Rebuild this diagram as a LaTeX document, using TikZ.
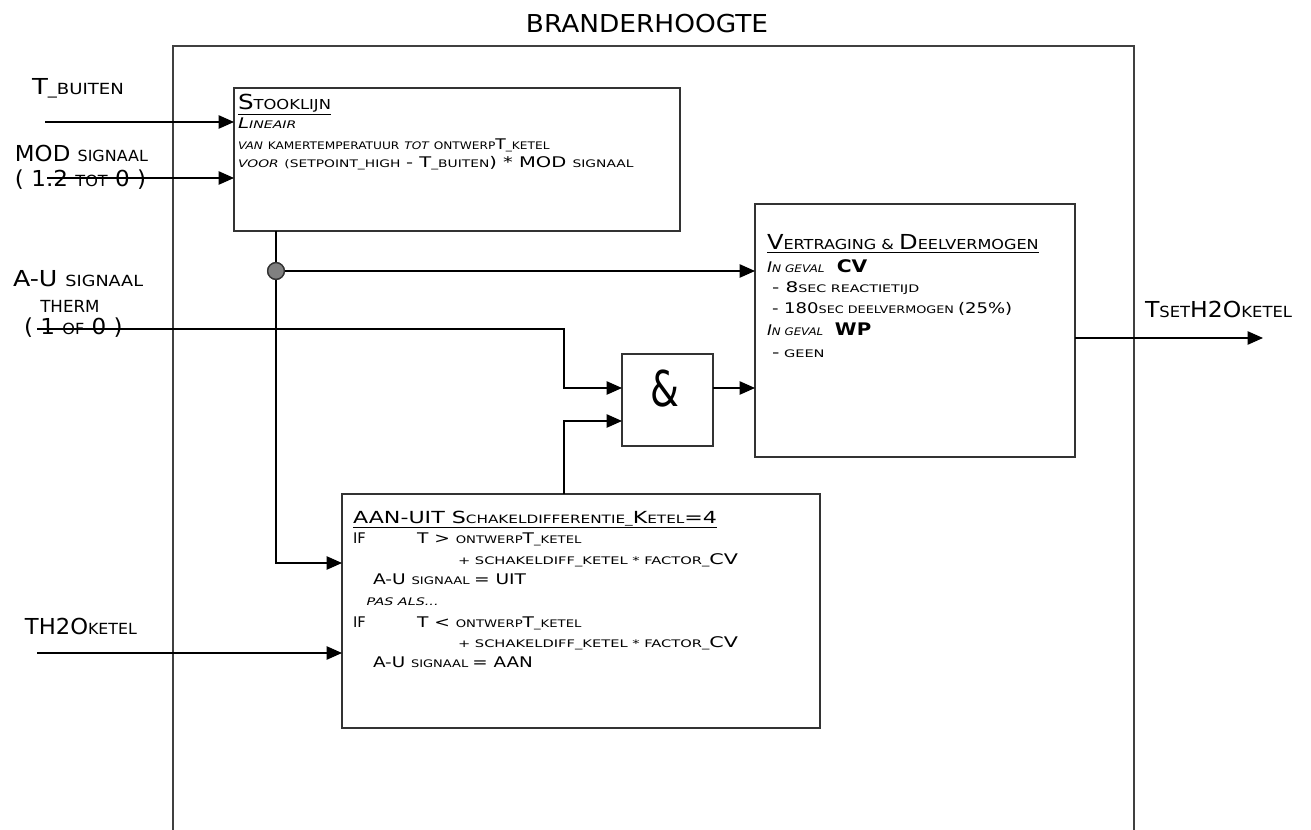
\documentclass[tikz,border=0pt]{standalone}
\usepackage{fontspec}
\usepackage{graphicx}
\setmainfont{DejaVu Sans}
\usetikzlibrary{arrows.meta,fit}

% font sizes: capitals and small capitals per context
\newcommand\fsz[1]{\fontsize{#1}{#1}\selectfont}
\newcommand\Lc{\fsz{16.5}}  % outer labels, capitals
\newcommand\Ls{\fsz{11.5}}  % outer labels, small capitals
\newcommand\Hc{\fsz{15.5}}  % block headers, capitals
\newcommand\Hs{\fsz{10.3}}  % block headers, small capitals
\newcommand\Bc{\fsz{11}}    % block body, capitals
\newcommand\Bs{\fsz{7.8}}   % block body, small capitals
\newcommand\Ac{\fsz{12.5}}  % switch block header, capitals
\newcommand\As{\fsz{8.6}}   % switch block header, small capitals
% the drafting lettering runs wide: stretch a line horizontally
\newcommand\wide[2]{\scalebox{#1}[1]{#2}}

\tikzset{
  blk/.style={draw=black!80, line width=1pt, inner sep=0pt, outer sep=0pt},
  frame/.style={draw=black!75, line width=1.3pt},
  arr/.style={draw=black, line width=1pt,
              -{Triangle[length=11.5pt,width=10pt]}},
  wire/.style={draw=black, line width=1pt},
  txt/.style={anchor=base west, inner sep=0pt, outer sep=0pt},
  dot/.style={circle, draw=black!80, fill=black!50, line width=1pt,
              minimum size=12.5pt, inner sep=0pt},
}

\begin{document}
\begin{tikzpicture}[x=0.75pt, y=-0.75pt]
\useasboundingbox (0,0) rectangle (1311,830);

% enclosing frame, open at the bottom
\draw[frame] (173,830) -- (173,46) -- (1134,46) -- (1134,830);
\node[anchor=base, inner sep=0pt, font=\fsz{18.5}] (title) at (647,33) {\wide{1.07}{BRANDERHOOGTE}};

% blocks
\node[blk, fit={(234,88) (680,231)}] (stook) {};
\node[blk, fit={(755,204) (1075,457)}] (vertr) {};
\node[blk, fit={(622,354) (713,446)}] (andg) {};
\node[blk, fit={(342,494) (820,728)}] (aan) {};
\node[inner sep=0pt, font=\fsz{37}, xscale=0.75] (amp) at (665,389) {\&};

% input labels
\node[txt] (lbuiten) at (32,95) {\wide{1.18}{{\Lc T}{\Ls \_BUITEN}}};
\node[txt] (lmod) at (15,162) {\wide{1.04}{{\Lc MOD }{\Ls SIGNAAL}}};
\node[txt] (lmodr) at (15,187) {\wide{1.05}{{\Lc ( 1.2 }{\Ls TOT}{\Lc\ 0 )}}};
\node[txt] (lau) at (13,287) {\wide{1.15}{{\Lc A-U }{\Ls SIGNAAL}}};
\node[txt] (ltherm) at (35,313) {{\fsz{12.5} THERM}};
\node[txt] (laur) at (24,335) {\wide{1.05}{{\Lc ( 1 }{\Ls OF}{\Lc\ 0 )}}};
\node[txt] (lketel) at (25,634) {\wide{1.03}{{\Lc TH2O}{\Ls KETEL}}};
\node[txt] (lout) at (1145,318) {\wide{1.07}{{\Lc T}{\Ls SET}{\Lc H2O}{\Ls KETEL}}};

% free ends and bends of the connectors
\coordinate (ibuiten) at (45,122);
\coordinate (imod) at (47,178);
\coordinate (iau) at (37,329);
\coordinate (iketel) at (37,653);
\coordinate (kau) at (564,388);
\coordinate (kaan) at (564,421);
\coordinate (ksw) at (276,563);
\coordinate (oset) at (1263,338);
\node[dot] (j) at (276,271) {};

% connectors
\draw[arr] (ibuiten) -- (ibuiten -| stook.west);
\draw[arr] (imod) -- (imod -| stook.west);
\draw[arr] (iau) -| (kau) -- (kau -| andg.west);
\draw[arr] (aan.north -| kaan) -- (kaan) -- (kaan -| andg.west);
\draw[arr] (andg.east |- kau) -- (kau -| vertr.west);
\draw[wire] (stook.south -| j) -- (j);
\draw[arr] (j) -- (j -| vertr.west);
\draw[arr] (j) -- (ksw) -- (ksw -| aan.west);
\draw[arr] (iketel) -- (iketel -| aan.west);
\draw[arr] (vertr.east |- oset) -- (oset);
\node[dot] (j2) at (j) {};

% Stooklijn text
\node[txt] (s1) at (238,110) {\wide{1.19}{\underline{{\Hc S}{\Hs TOOKLIJN}}}};
\node[txt] (s2) at (238,129) {\wide{1.36}{\itshape{\Bc L}{\Bs INEAIR}}};
\node[txt] (s3) at (238,150) {\wide{1.17}{{\Bs\itshape VAN} {\Bs KAMERTEMPERATUUR} {\Bs\itshape TOT} {\Bs ONTWERP}{\Bc T}{\Bs\_KETEL}}};
\node[txt] (s4) at (238,168) {\wide{1.33}{{\Bs\itshape VOOR} {\Bs (SETPOINT\_HIGH} {\Bc - T}{\Bs\_BUITEN}{\Bc ) * MOD }{\Bs SIGNAAL}}};

% Vertraging text
\node[txt] (v1) at (767,250) {\wide{1.17}{\underline{{\Hc V}{\Hs ERTRAGING \& }{\Hc D}{\Hs EELVERMOGEN}}}};
\node[txt] (v2) at (767,273) {\wide{1.17}{{\itshape{\Bc I}{\Bs N GEVAL}} {\bfseries\fsz{13} CV}}};
\node[txt] (v3) at (772,293) {\wide{1.37}{{\Bc - 8}{\Bs SEC REACTIETIJD}}};
\node[txt] (v4) at (772,314) {\wide{1.23}{{\Bc - 180}{\Bs SEC DEELVERMOGEN }{\Bc (25\%)}}};
\node[txt] (v5) at (767,336) {\wide{1.14}{{\itshape{\Bc I}{\Bs N GEVAL}} {\bfseries\fsz{13} WP}}};
\node[txt] (v6) at (772,358) {\wide{1.4}{{\Bc -}{\Bs\ GEEN}}};

% switching block text
\node[txt] (a1) at (353,523) {\wide{1.33}{\underline{{\Ac AAN-UIT S}{\As CHAKELDIFFERENTIE\_}{\Ac K}{\As ETEL}{\Ac =4}}}};
\node[txt] (a2) at (353,544) {\Bc IF};
\node[txt] (a3) at (417,544) {\wide{1.27}{{\Bc T > }{\Bs ONTWERP}{\Bc T}{\Bs\_KETEL}}};
\node[txt] (a4) at (458,565) {\wide{1.41}{{\Bs + SCHAKELDIFF\_KETEL * FACTOR\_}{\Bc CV}}};
\node[txt] (a5) at (373,585) {\wide{1.27}{{\Bc A-U }{\Bs SIGNAAL }{\Bc = UIT}}};
\node[txt] (a6) at (362,605) {\wide{1.38}{\itshape\fsz{7.8} PAS ALS...}};
\node[txt] (a7) at (353,627) {\Bc IF};
\node[txt] (a8) at (417,627) {\wide{1.27}{{\Bc T < }{\Bs ONTWERP}{\Bc T}{\Bs\_KETEL}}};
\node[txt] (a9) at (458,647) {\wide{1.41}{{\Bs + SCHAKELDIFF\_KETEL * FACTOR\_}{\Bc CV}}};
\node[txt] (a10) at (373,667) {\wide{1.25}{{\Bc A-U }{\Bs SIGNAAL }{\Bc = AAN}}};
\end{tikzpicture}
\end{document}
